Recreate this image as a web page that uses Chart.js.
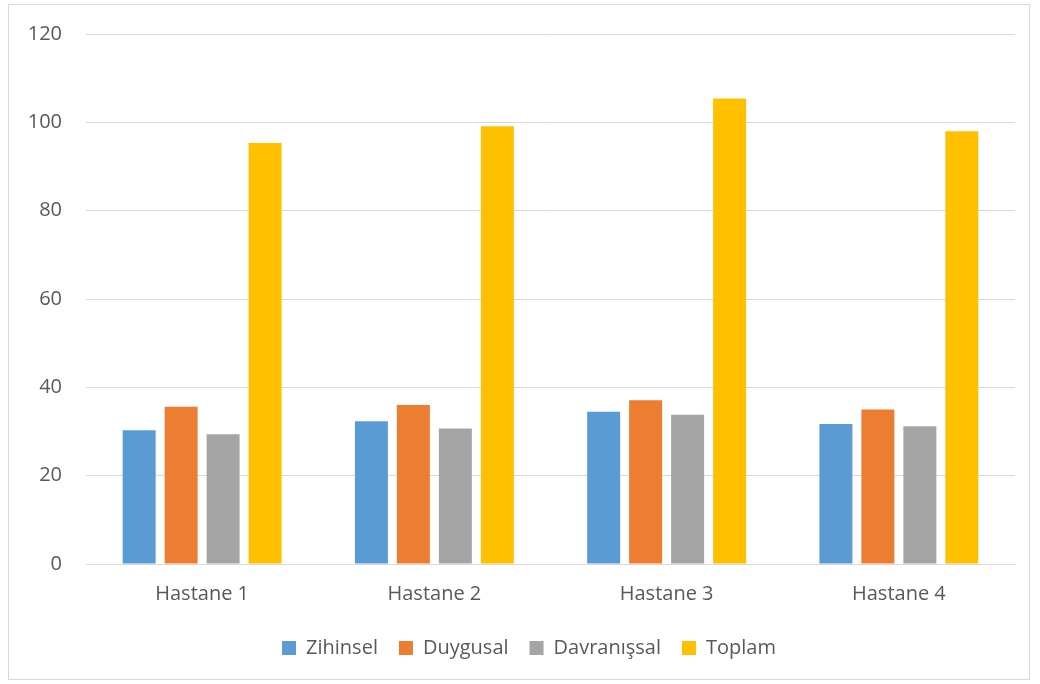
<!DOCTYPE html>
<html>
<head>
<meta charset="utf-8">
<script src="https://cdn.jsdelivr.net/npm/chart.js@4.4.1/dist/chart.umd.min.js"></script>
<style>
  html, body { margin: 0; padding: 0; background: #ffffff; }
  #frame {
    position: absolute; left: 8px; top: 4px; width: 1022px; height: 676px;
    border: 1px solid #d9d9d9; box-sizing: border-box;
  }
  #wrap { position: absolute; left: 0; top: 0; width: 1040px; height: 684px; }
</style>
</head>
<body>
<div id="frame"></div>
<div id="wrap"><canvas id="c" width="1040" height="684"></canvas></div>
<script>
const categories = ['Hastane 1', 'Hastane 2', 'Hastane 3', 'Hastane 4'];
const zihinsel = [30.3, 32.3, 34.5, 31.7];
const duygusal = [35.6, 36.0, 37.1, 35.0];
const davranissal = [29.4, 30.7, 33.8, 31.2];
const toplam = [95.3, 99.1, 105.4, 98.0];
const yTicks = [0, 20, 40, 60, 80, 100, 120];

const FONT = '"Open Sans", Lato, sans-serif';
const TEXT = '#595959';

const ds = (label, data, color) => ({
  label, data, backgroundColor: color, borderWidth: 0,
  categoryPercentage: 0.723, barPercentage: 0.786
});

// Centre the legend under the plot area rather than the full canvas.
const legendUnderPlot = {
  id: 'legendUnderPlot',
  afterLayout(chart) {
    const lg = chart.legend;
    if (!lg) return;
    const shift = ((chart.chartArea.left + chart.chartArea.right) / 2 - (lg.left + lg.right) / 2) * 0.5;
    lg.left += shift;
    lg.right += shift;
  }
};

new Chart(document.getElementById('c'), {
  type: 'bar',
  data: {
    labels: categories,
    datasets: [
      ds('Zihinsel', zihinsel, '#5b9bd5'),
      ds('Duygusal', duygusal, '#ed7d31'),
      ds('Davranışsal', davranissal, '#a5a5a5'),
      ds('Toplam', toplam, '#ffc000')
    ]
  },
  plugins: [legendUnderPlot],
  options: {
    responsive: false,
    animation: false,
    events: [],
    layout: { padding: { left: 0, top: 34, right: 25, bottom: 16 } },
    plugins: {
      tooltip: { enabled: false },
      legend: {
        position: 'bottom',
        labels: {
          color: TEXT,
          font: { family: FONT, size: 20 },
          boxWidth: 14,
          boxHeight: 14,
          padding: 21
        }
      }
    },
    scales: {
      x: {
        grid: { display: false, drawTicks: false },
        border: { color: '#d9d9d9', width: 1 },
        ticks: { color: TEXT, font: { family: FONT, size: 20 }, padding: 18 },
        afterFit: s => { s.height = 53; s.paddingLeft = 0; s.paddingRight = 0; }
      },
      y: {
        min: 0, max: 120,
        afterBuildTicks: s => { s.ticks = yTicks.map(v => ({ value: v })); },
        grid: { color: '#d9d9d9', lineWidth: 1, drawTicks: false },
        border: { display: false },
        ticks: { color: TEXT, font: { family: FONT, size: 20 }, padding: 24 },
        afterFit: s => { s.width = 86; s.paddingTop = 0; s.paddingBottom = 0; }
      }
    }
  }
});
</script>
</body>
</html>
